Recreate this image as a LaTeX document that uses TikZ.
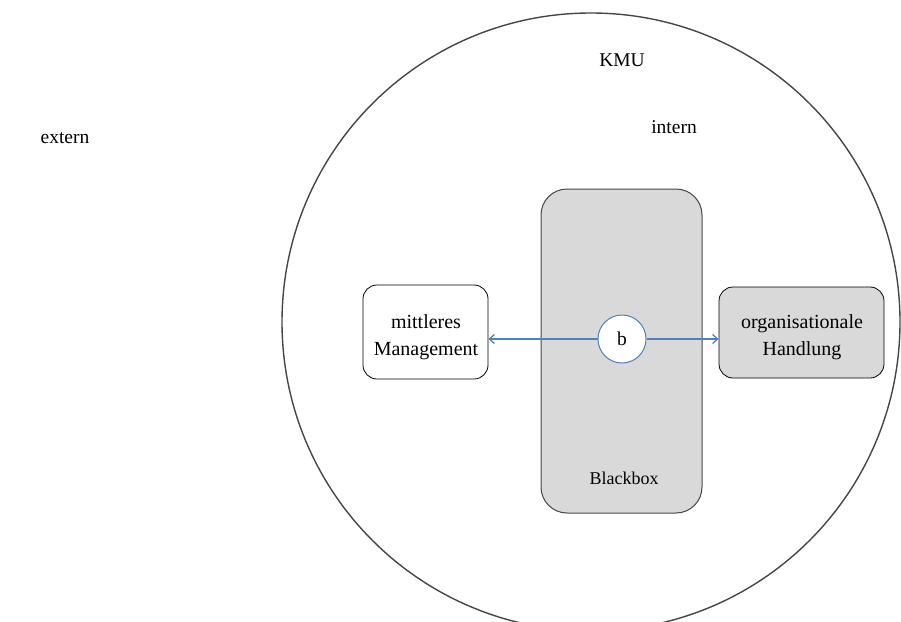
\documentclass[tikz,border=0pt]{standalone}
\usepackage{fontspec}
\setmainfont{Liberation Serif}
\usetikzlibrary{arrows.meta}
\definecolor{linkblue}{RGB}{79,129,189}
\definecolor{boxgray}{RGB}{217,217,217}
\definecolor{edgegray}{RGB}{70,70,70}
\begin{document}
\begin{tikzpicture}[x=1pt,y=-1pt,
  lbl/.style={font=\fontsize{19.5}{23}\selectfont, inner sep=0pt},
  sidebox/.style={draw=black, line width=0.8pt, rounded corners=14pt, align=center,
    font=\fontsize{20}{27}\selectfont, inner sep=0pt},
  link/.style={draw=linkblue, line width=1.3pt, -{Straight Barb[length=5pt,width=9pt]}}
]
\useasboundingbox (0,0) rectangle (901,621);
\begin{scope}
\clip (0,0) rectangle (901,621);
\draw[edgegray, line width=1.4pt] (591,322) circle [radius=309];
\end{scope}
\node[lbl] (kmu) at (622,60) {KMU};
\node[lbl] (intern) at (674,127) {intern};
\node[lbl] (extern) at (65,138) {extern};
\node[draw=edgegray, line width=1pt, fill=boxgray, rounded corners=26pt,
  minimum width=161pt, minimum height=324pt, inner sep=0pt] (bb) at (621.5,351) {};
\node[font=\fontsize{18}{21}\selectfont, inner sep=0pt] (bbl) at (624,478) {Blackbox};
\node[sidebox, minimum width=125pt, minimum height=94pt] (mm) at (425.5,332) {};
\node[sidebox, draw=none, fill=none] (mmt) at (426,337) {mittleres\\Management};
\node[sidebox, fill=boxgray, minimum width=165pt, minimum height=91pt] (oh) at (801.5,332.5) {};
\node[sidebox, draw=none, fill=none] (oht) at (802,337) {organisationale\\Handlung};
\node[circle, draw=linkblue, line width=1pt, fill=white, minimum size=48pt, inner sep=0pt,
  font=\fontsize{19.5}{23}\selectfont] (b) at (622,339) {b};
\draw[link] (b.west) -- (mm.east |- b.west);
\draw[link] (b.east) -- (oh.west |- b.east);
\end{tikzpicture}
\end{document}
